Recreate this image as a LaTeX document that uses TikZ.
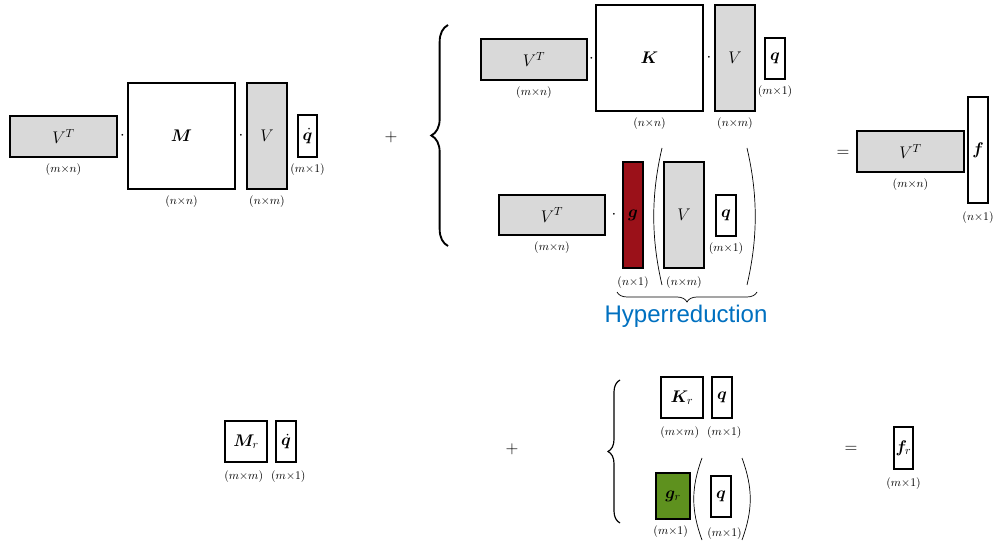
\documentclass[tikz,border=0pt]{standalone}
\usepackage{amsmath,bm}
\usepackage{fontspec}
\newfontfamily\hyfont{Liberation Sans}
\usetikzlibrary{calc,positioning,decorations.pathreplacing}
\definecolor{matgray}{HTML}{D9D9D9}
\definecolor{gred}{HTML}{9B1119}
\definecolor{ggreen}{HTML}{5E911E}
\definecolor{hyblue}{HTML}{0070C0}

\begin{document}
\begin{tikzpicture}
      [x=.03cm,y=-.03cm
      ,mat/.style 2 args={draw,line width=1.8pt,inner sep=0,font=\Large
                         ,minimum width=#1*.03cm,minimum height=#2*.03cm}
      ,gr/.style={fill=matgray}
      ,dim/.style={inner sep=0,font=\normalsize}
      ,op/.style={inner sep=0,font=\Large}
      ,par/.style={line width=.6pt}
      ,brc/.style={decorate,decoration={brace,amplitude=#1}}]
        \useasboundingbox (0,0) rectangle (995,542);
        % M part
        \node[mat={107}{41},gr]  (VTa) at (63.5,136.5) {$V^T$};
        \node[mat={107}{106}]    (Ma)  at (181.5,136)  {$\bm{M}$};
        \node[mat={40}{106},gr]  (Va)  at (267,136)    {$V$};
        \node[mat={19}{42}]      (qda) at (307.5,136)  {$\dot{\bm{q}}$};
        \node[op] at ($ (VTa.east)!.5!(Ma.west) $) {$\cdot$};
        \node[op] at ($ (Ma.east)!.5!(Va.west) $)  {$\cdot$};
        \node[dim,below=5pt of VTa] {$(m{\times}n)$};
        \node[dim,below=5pt of Ma]  {$(n{\times}n)$};
        \node[dim,below=5pt of Va]  {$(n{\times}m)$};
        \node[dim,below=5pt of qda] {$(m{\times}1)$};
        \node[op] (pa) at (391,137) {$+$};
        \draw[brc=.5cm,line width=1.6pt] (448,246) -- (448,25);
        % K part
        \node[mat={106}{41},gr]  (VTb) at (534,59.5)   {$V^T$};
        \node[mat={107}{106}]    (Kb)  at (649.5,58)   {$\bm{K}$};
        \node[mat={40}{106},gr]  (Vb)  at (735,58)     {$V$};
        \node[mat={20}{41}]      (qb)  at (775,58.5)   {$\bm{q}$};
        \node[op] at ($ (VTb.east)!.5!(Kb.west) $) {$\cdot$};
        \node[op] at ($ (Kb.east)!.5!(Vb.west) $)  {$\cdot$};
        \node[dim,below=5pt of VTb] {$(m{\times}n)$};
        \node[dim,below=5pt of Kb]  {$(n{\times}n)$};
        \node[dim,below=5pt of Vb]  {$(n{\times}m)$};
        \node[dim,below=5pt of qb]  {$(m{\times}1)$};
        % g part
        \node[mat={106}{40},gr]  (VTc) at (552,215)    {$V^T$};
        \node[mat={20}{106},fill=gred] (gc) at (633,215) {$\bm{g}$};
        \node[mat={40}{106},gr]  (Vc)  at (684,215)    {$V$};
        \node[mat={20}{41}]      (qc)  at (726,215.5)  {$\bm{q}$};
        \node[op] at ($ (VTc.east)!.5!(gc.west) $) {$\cdot$};
        \node[dim,below=5pt of VTc] {$(m{\times}n)$};
        \node[dim,below=6pt of gc]  {$(n{\times}1)$};
        \node[dim,below=6pt of Vc]  {$(n{\times}m)$};
        \node[dim,below=5pt of qc]  {$(m{\times}1)$};
        \draw[par] (662,148) .. controls (651,195) and (651,238) .. (662,285);
        \draw[par] (747,148) .. controls (758,195) and (758,238) .. (747,285);
        \draw[brc=.3cm,line width=.6pt] (757,292) -- (617,292);
        \node[text=hyblue,inner sep=0,font=\hyfont\fontsize{20.5}{24}\selectfont]
          (hy) at (686,316) {Hyperreduction};
        % right side
        \node[op] (eqa) at (843,153) {$=$};
        \node[mat={107}{41},gr]  (VTd) at (910.5,151.5) {$V^T$};
        \node[mat={20}{106}]     (fd)  at (978,150)     {$\bm{f}$};
        \node[dim,below=5pt of VTd] {$(m{\times}n)$};
        \node[dim,below=6pt of fd]  {$(n{\times}1)$};
        % reduced
        \node[mat={42}{41}]      (Mr)  at (246,441.5)  {$\bm{M}_r$};
        \node[mat={20}{41}]      (qdr) at (286,441.5)  {$\dot{\bm{q}}$};
        \node[dim,below=6pt of Mr,xshift=-2pt]  {$(m{\times}m)$};
        \node[dim,below=6pt of qdr,xshift=2pt] {$(m{\times}1)$};
        \node[op] (pr) at (512,449) {$+$};
        \draw[brc=.36cm,line width=1pt] (620,523) -- (620,380);
        \node[mat={42}{41}]      (Kr)  at (682,397.5)  {$\bm{K}_r$};
        \node[mat={20}{41}]      (qr)  at (722,397.5)  {$\bm{q}$};
        \node[dim,below=6pt of Kr,xshift=-2pt]  {$(m{\times}m)$};
        \node[dim,below=6pt of qr,xshift=2pt]  {$(m{\times}1)$};
        \node[mat={34}{46},fill=ggreen] (gr) at (673,496) {$\bm{g}_r$};
        \node[mat={20}{41}]      (qr2) at (721,496.5)  {$\bm{q}$};
        \node[dim,below=5pt of gr,xshift=-2pt]  {$(m{\times}1)$};
        \node[dim,below=8pt of qr2,xshift=3pt] {$(m{\times}1)$};
        \draw[par] (702,458) .. controls (691,488) and (691,510) .. (702,540);
        \draw[par] (742,458) .. controls (753,488) and (753,510) .. (742,540);
        \node[op] (eqr) at (851,449) {$=$};
        \node[mat={19}{42}]      (fr)  at (903.5,448)  {$\bm{f}_r$};
        \node[dim,below=6pt of fr]  {$(m{\times}1)$};
      \end{tikzpicture}
\end{document}
